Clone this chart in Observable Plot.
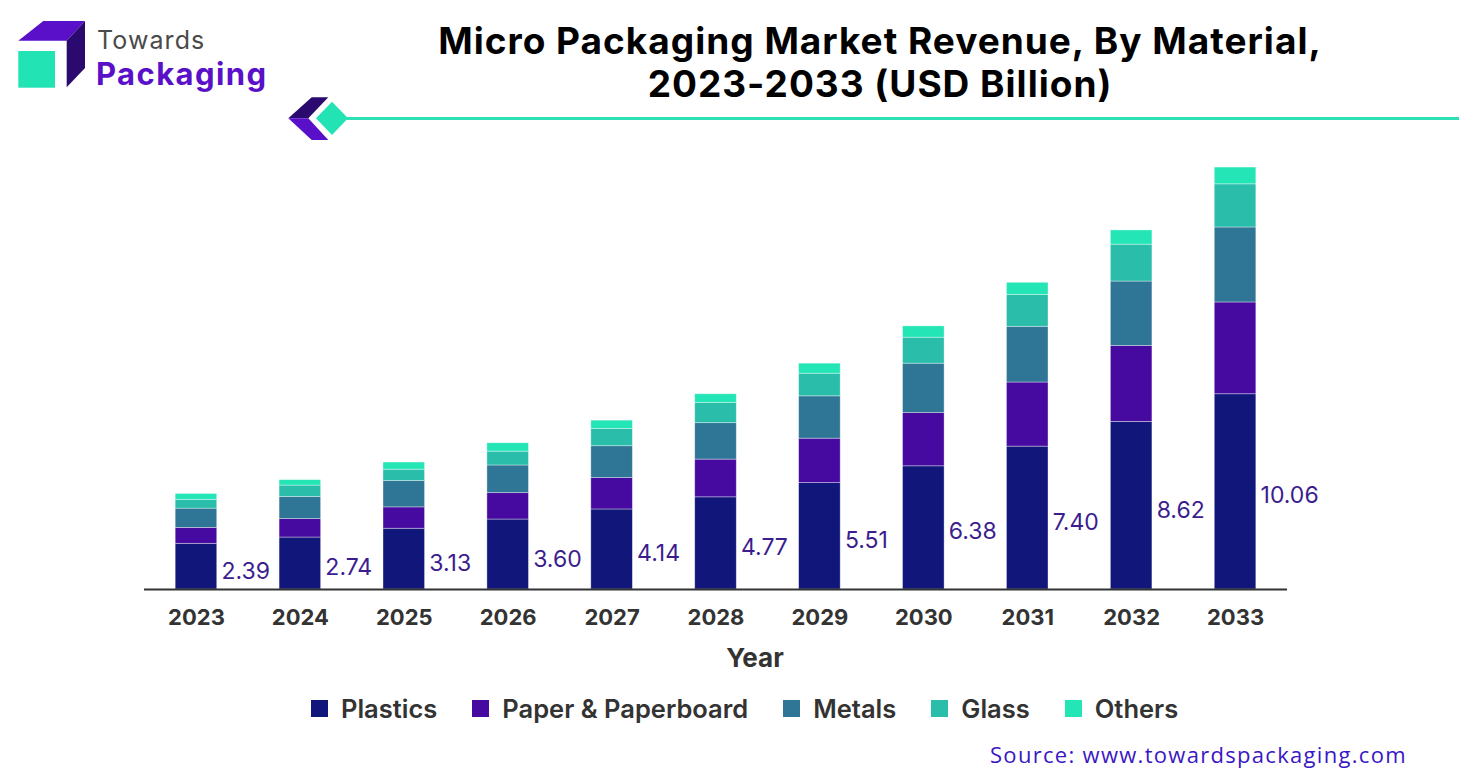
<!DOCTYPE html>
<html>
<head>
<meta charset="utf-8">
<script src="https://cdn.jsdelivr.net/npm/d3@7"></script>
<script src="https://cdn.jsdelivr.net/npm/@observablehq/plot@0.6"></script>
<style>
  html, body { margin: 0; padding: 0; background: #ffffff; }
  #page { position: relative; width: 1459px; height: 782px; overflow: hidden; font-family: Inter, "Noto Sans", sans-serif; }
  #title { position: absolute; left: 380px; width: 1000px; top: 19px; text-align: center; font-size: 37px; font-weight: 700; line-height: 43px; color: #000; letter-spacing: 1.0px; }
  #rule { position: absolute; left: 345px; top: 117px; width: 1114px; height: 3px; background: #2ee0b4; }
  #chart { position: absolute; left: 0; top: 150px; }
  #xlabel { position: absolute; left: 655px; width: 200px; top: 642px; text-align: center; font-size: 26px; font-weight: 700; color: #333; }
  #legend { position: absolute; left: 311px; top: 693px; display: flex; align-items: center; font-size: 25.5px; font-weight: 600; color: #333; }
  .item { display: flex; align-items: center; margin-right: 35px; }
  .sw { width: 17px; height: 17px; margin-right: 13px; }
  #source { position: absolute; left: 990px; top: 739px; font-family: "Open Sans", sans-serif; font-size: 22px; color: #3a17c4; letter-spacing: 1.3px; }
  #brand1 { position: absolute; left: 97px; top: 28px; font-size: 25px; line-height: 1; color: #4a4a4a; font-weight: 400; letter-spacing: 1.1px; }
  #brand2 { position: absolute; left: 96px; top: 58px; font-size: 31px; line-height: 1; color: #5a10c9; font-weight: 700; letter-spacing: 1.4px; }
</style>
</head>
<body>
<div id="page">
  <svg id="logo" width="360" height="150" style="position:absolute;left:0;top:0">
    <polygon points="18.3,40.7 43.3,21 85,21 66.7,40.7" fill="#5a10c9"/>
    <polygon points="66.7,40.7 85,21 85,68 66.7,87.3" fill="#2a0a6e"/>
    <rect x="18.3" y="51" width="36.7" height="36.7" fill="#22e3b4"/>
    <polygon points="288.3,118.3 311.7,97.3 328.3,97.3 308.3,118.3" fill="#2a0a6e"/>
    <polygon points="288.3,118.3 308.3,118.3 328.3,140 311.7,140" fill="#5a10c9"/>
    <polygon points="316,118.3 332,101.7 348,118.3 332,135" fill="#22e3b4"/>
  </svg>
  <div id="brand1">Towards</div>
  <div id="brand2">Packaging</div>
  <div id="title">Micro Packaging Market Revenue, By Material,<br>2023-2033 (USD Billion)</div>
  <div id="rule"></div>
  <div id="chart"></div>
  <div id="xlabel">Year</div>
  <div id="legend"></div>
  <div id="source">Source: www.towardspackaging.com</div>
</div>
<script>
// ---- data ----
const years = ["2023","2024","2025","2026","2027","2028","2029","2030","2031","2032","2033"];
const totals = [2.39, 2.74, 3.13, 3.60, 4.14, 4.77, 5.51, 6.38, 7.40, 8.62, 10.06];
const materials = ["Plastics", "Paper & Paperboard", "Metals", "Glass", "Others"];
const plastics = [1.09, 1.24, 1.45, 1.67, 1.91, 2.20, 2.54, 2.94, 3.41, 4.00, 4.66];
const paper    = [0.38, 0.44, 0.51, 0.63, 0.75, 0.90, 1.06, 1.27, 1.53, 1.81, 2.19];
const metals   = [0.46, 0.53, 0.63, 0.66, 0.76, 0.87, 1.01, 1.18, 1.33, 1.54, 1.79];
const glass    = [0.21, 0.27, 0.27, 0.33, 0.41, 0.48, 0.54, 0.62, 0.76, 0.88, 1.03];
const others   = [0.14, 0.13, 0.17, 0.20, 0.20, 0.21, 0.24, 0.27, 0.29, 0.34, 0.40];
const colors = ["#10167a", "#470aa1", "#2f7696", "#2abdaa", "#24e5b5"];

const series = [plastics, paper, metals, glass, others];
const rows = [];
years.forEach((y, i) => {
  materials.forEach((m, j) => rows.push({year: y, material: m, value: series[j][i]}));
});
const totalRows = years.map((y, i) => ({year: y, total: totals[i]}));

const chart = Plot.plot({
  width: 1459,
  height: 530,
  marginLeft: 144,
  marginRight: 172,
  marginTop: 20,
  marginBottom: 91,
  style: {fontFamily: "Inter, 'Noto Sans', sans-serif", background: "transparent"},
  x: {type: "band", domain: years, paddingInner: 0.6, paddingOuter: 0.3, round: false, label: null},
  y: {domain: [0, 10], axis: null},
  color: {domain: materials, range: colors},
  marks: [
    Plot.barY(rows, {x: "year", y: "value", fill: "material", stroke: "#ffffff", strokeOpacity: 0.45, strokeWidth: 0.8}),
    Plot.ruleY([0], {stroke: "#333333", strokeWidth: 2}),
    Plot.text(totalRows, {x: "year", y: d => d.total * 0.2334, text: d => d.total.toFixed(2),
      textAnchor: "start", dx: 25, dy: 5, fontSize: 23, fill: "#3b1d8e"}),
    Plot.axisX({tickSize: 0, tickPadding: 20, fontSize: 22, fontWeight: 700, fill: "#333333", label: null})
  ]
});
document.getElementById("chart").appendChild(chart);

const legend = document.getElementById("legend");
materials.forEach((m, j) => {
  const it = document.createElement("div");
  it.className = "item";
  const sw = document.createElement("div");
  sw.className = "sw";
  sw.style.background = colors[j];
  const tx = document.createElement("span");
  tx.textContent = m;
  it.appendChild(sw); it.appendChild(tx);
  legend.appendChild(it);
});
</script>
</body>
</html>
